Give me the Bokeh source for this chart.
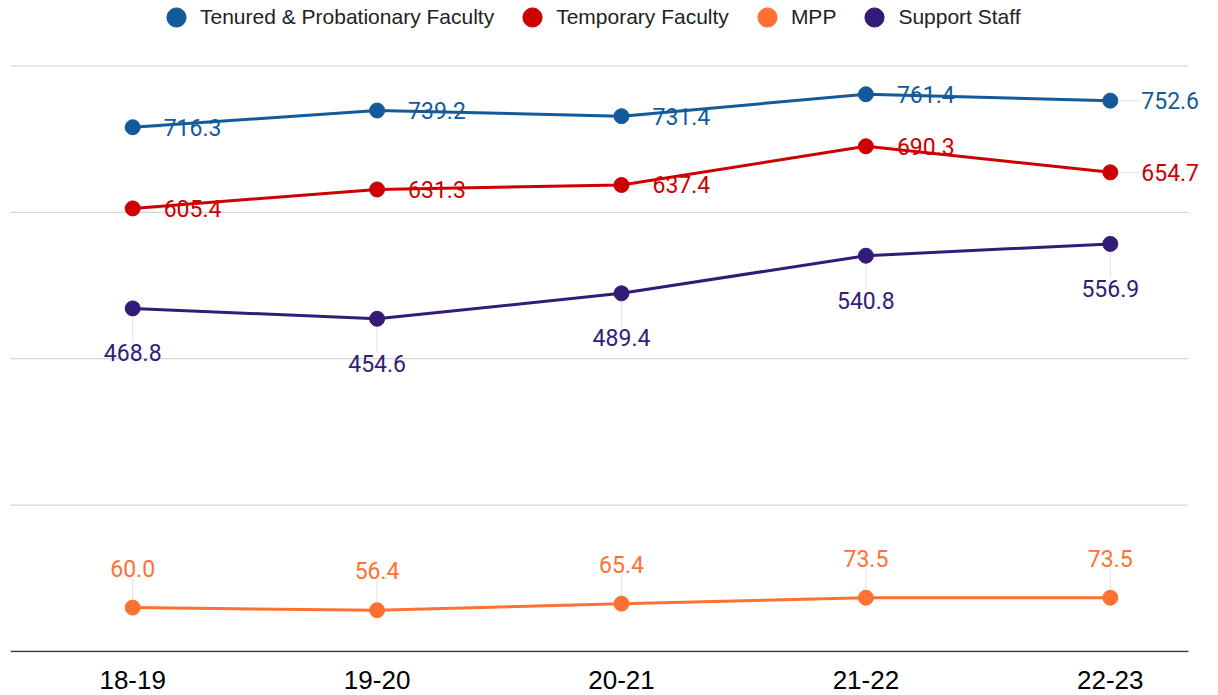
from bokeh.plotting import figure
from bokeh.models import Range1d, FixedTicker, Legend, LegendItem, LabelSet, ColumnDataSource
from bokeh.core.properties import value
from bokeh.embed import file_html
from bokeh.resources import INLINE

years = ["18-19", "19-20", "20-21", "21-22", "22-23"]
tenured = [716.3, 739.2, 731.4, 761.4, 752.6]
temporary = [605.4, 631.3, 637.4, 690.3, 654.7]
mpp = [60.0, 56.4, 65.4, 73.5, 73.5]
support = [468.8, 454.6, 489.4, 540.8, 556.9]
grid_levels = [200, 400, 600, 800]

names = ["Tenured & Probationary Faculty", "Temporary Faculty", "MPP", "Support Staff"]
colors = ["#135A9A", "#CC0000", "#FF7132", "#321C78"]
series = [tenured, temporary, mpp, support]
placement = ["right", "right", "above", "below"]

FONT = "Roboto"
PX_X = 1178 / 4.82          # px per category step
PX_Y = 0.73188              # px per unit
XMIN = -0.5
GRID_END = 4.32
FW, FH = 1202, 652
XMAX = XMIN + FW / PX_X
YMIN = -1 / PX_Y
YMAX = YMIN + FH / PX_Y

p = figure(frame_width=FW, frame_height=FH, output_backend="svg", toolbar_location=None,
           x_range=Range1d(XMIN, XMAX), y_range=Range1d(YMIN, YMAX),
           min_border_left=10, min_border_right=4, min_border_top=0,
           min_border_bottom=43)
p.outline_line_color = None
p.background_fill_color = "white"
p.yaxis.visible = False
p.xgrid.visible = False
p.ygrid.visible = False

# horizontal gridlines and baseline
p.segment(x0=[XMIN] * len(grid_levels), x1=[GRID_END] * len(grid_levels),
          y0=grid_levels, y1=grid_levels, line_color="#CCCCCC", line_width=1)
p.segment(x0=[XMIN], x1=[GRID_END], y0=[0], y1=[0], line_color="#333333", line_width=1.5)

xa = p.xaxis[0]
xa.ticker = FixedTicker(ticks=list(range(len(years))))
xa.major_label_overrides = {i: y for i, y in enumerate(years)}
xa.major_tick_line_color = None
xa.minor_tick_line_color = None
xa.major_tick_out = 0
xa.axis_line_color = None
xa.major_label_text_font = "Liberation Sans"
xa.major_label_text_font_size = "26px"
xa.major_label_text_color = "#000000"
xa.major_label_standoff = 18

xs = list(range(len(years)))
items = []
for name, col, vals, pl in zip(names, colors, series, placement):
    labels = [f"{v:.1f}" for v in vals]
    if pl == "right":
        x0 = [x + 8 / PX_X for x in xs]
        x1 = [x + 30 / PX_X for x in xs]
        y0 = list(vals); y1 = list(vals)
        xo, yo = 31, 0
        align, base = "left", "middle"
    elif pl == "above":
        x0 = list(xs); x1 = list(xs)
        y0 = [v + 8 / PX_Y for v in vals]
        y1 = [v + 29 / PX_Y for v in vals]
        xo, yo = 0, 31
        align, base = "center", "bottom"
    else:
        x0 = list(xs); x1 = list(xs)
        y0 = [v - 8 / PX_Y for v in vals]
        y1 = [v - 34 / PX_Y for v in vals]
        xo, yo = 0, -36
        align, base = "center", "top"
    p.segment(x0=x0, y0=y0, x1=x1, y1=y1, line_color="#E2E2E2", line_width=1)
    p.line(xs, vals, line_color=col, line_width=3)
    r = p.scatter(xs, vals, size=15, fill_color=col, line_color=col)
    src = ColumnDataSource(dict(x=xs, y=vals, t=labels))
    p.add_layout(LabelSet(x="x", y="y", text="t", source=src, x_offset=xo, y_offset=yo,
                          text_color=col, text_font=value(FONT), text_font_size="23px",
                          text_align=align, text_baseline=base))
    items.append(LegendItem(label=name, renderers=[r]))

legend = Legend(items=items, orientation="horizontal", location=(142, 611),
                glyph_width=48, glyph_height=48, label_standoff=0, spacing=14,
                padding=0, margin=0, border_line_color=None,
                background_fill_alpha=0, label_text_font="Liberation Sans",
                label_text_font_size="21px", label_text_color="#222222")
p.add_layout(legend, "center")

open("out.html", "w").write(file_html(p, INLINE))
